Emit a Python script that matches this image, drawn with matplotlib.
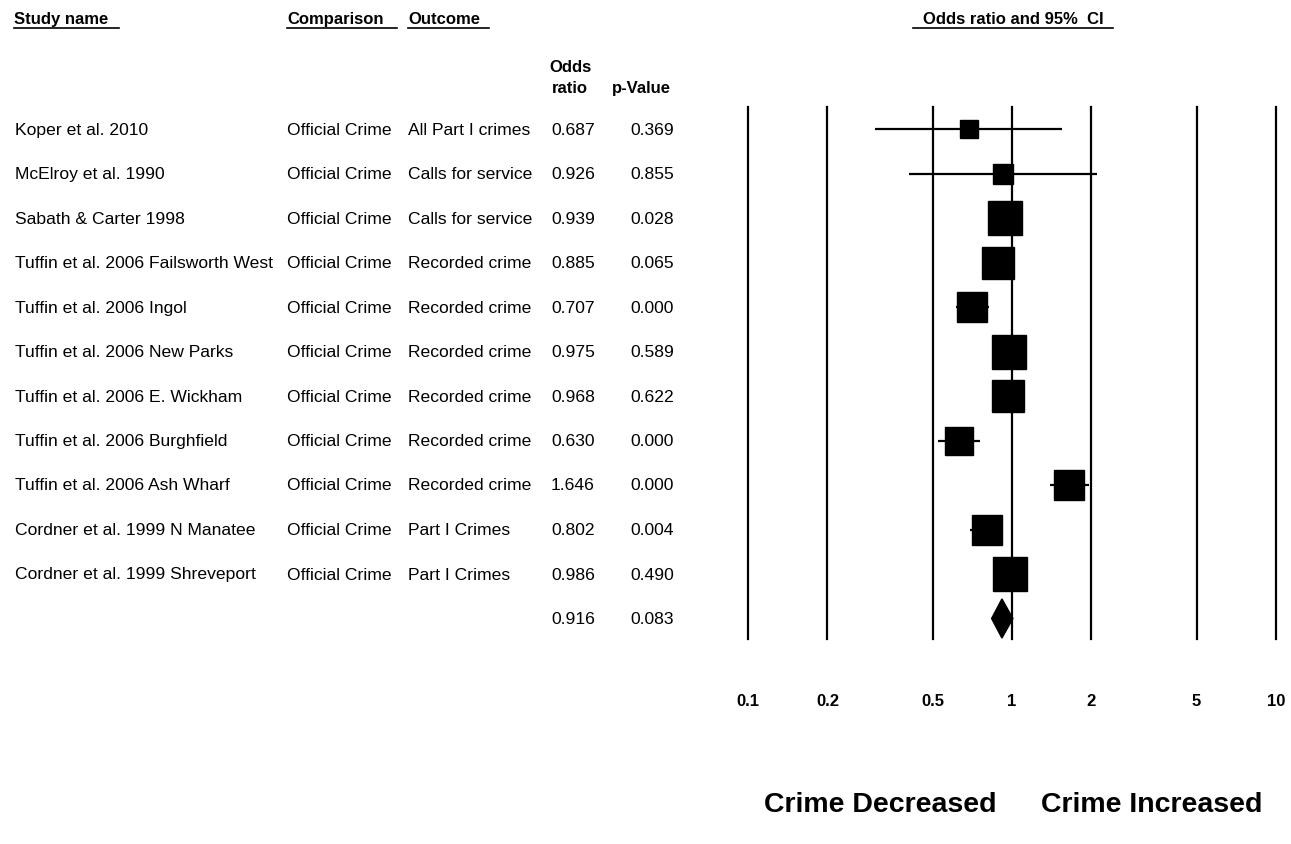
import matplotlib

matplotlib.use("Agg")
import matplotlib.pyplot as plt
import numpy as np
from matplotlib.patches import Polygon
from matplotlib.transforms import blended_transform_factory

plt.rcParams["font.family"] = ["Liberation Sans", "DejaVu Sans"]

# study rows
studies = [
    "Koper et al. 2010",
    "McElroy et al. 1990",
    "Sabath & Carter 1998",
    "Tuffin et al. 2006 Failsworth West",
    "Tuffin et al. 2006 Ingol",
    "Tuffin et al. 2006 New Parks",
    "Tuffin et al. 2006 E. Wickham",
    "Tuffin et al. 2006 Burghfield",
    "Tuffin et al. 2006 Ash Wharf",
    "Cordner et al. 1999 N Manatee",
    "Cordner et al. 1999 Shreveport",
]
comparison = ["Official Crime"] * len(studies)
outcome = [
    "All Part I crimes",
    "Calls for service",
    "Calls for service",
    "Recorded crime",
    "Recorded crime",
    "Recorded crime",
    "Recorded crime",
    "Recorded crime",
    "Recorded crime",
    "Part I Crimes",
    "Part I Crimes",
]
odds_ratio = [0.687, 0.926, 0.939, 0.885, 0.707, 0.975, 0.968, 0.630, 1.646, 0.802, 0.986]
p_value = [0.369, 0.855, 0.028, 0.065, 0.000, 0.589, 0.622, 0.000, 0.000, 0.004, 0.490]
ci_low = [0.304, 0.406, 0.887, 0.777, 0.611, 0.889, 0.851, 0.525, 1.387, 0.695, 0.947]
ci_high = [1.55, 2.10, 0.993, 1.008, 0.818, 1.069, 1.101, 0.756, 1.953, 0.925, 1.026]
weight = [3.6, 4.0, 12.2, 10.2, 9.5, 11.5, 10.2, 8.3, 8.9, 9.5, 12.2]

# pooled summary
summary_or = 0.916
summary_p = 0.083
summary_low = 0.837
summary_high = 1.008

xticks = [0.1, 0.2, 0.5, 1, 2, 5, 10]
xtick_labels = ["0.1", "0.2", "0.5", "1", "2", "5", "10"]

W, H = 1291, 845
fig = plt.figure(figsize=(W / 100, H / 100), dpi=100)


def fx(px):
    return px / W


def fy(py):
    return 1 - py / H


row0, step = 130, 44.5
ax_top, ax_bot = 108, 640
ax = fig.add_axes([fx(748), fy(ax_bot), fx(1276) - fx(748), (ax_bot - ax_top) / H])
ax.set_xscale("log")
ax.set_xlim(0.1, 10)
ax.set_ylim(11 + (ax_bot - row0 - 11 * step) / step, -(row0 - ax_top) / step)
for s in ax.spines.values():
    s.set_visible(False)
ax.set_yticks([])
ax.set_xticks(xticks)
ax.set_xticklabels(xtick_labels, fontsize=12, fontweight="bold")
ax.tick_params(axis="x", length=0, pad=39)
ax.minorticks_off()

for v in xticks:
    ax.axvline(v, color="black", lw=1.6, zorder=1, clip_on=False)

rows = np.arange(len(studies))
ax.hlines(rows, ci_low, ci_high, color="black", lw=1.6, zorder=2)
for r, o, w in zip(rows, odds_ratio, weight):
    ax.plot(o, r, marker="s", color="black", markersize=7.2 * np.sqrt(w), zorder=3)

sr = len(studies)
dh = 0.44
ax.add_patch(Polygon(
    [(summary_low, sr), (summary_or, sr - dh), (summary_high, sr), (summary_or, sr + dh)],
    closed=True, facecolor="black", edgecolor="black", zorder=3,
))

# table columns to the left, y in data units of the forest axes
tr = blended_transform_factory(fig.transFigure, ax.transData)
fs = 12.6
for r in rows:
    ax.text(fx(15), r, studies[r], transform=tr, fontsize=fs, va="center", ha="left")
    ax.text(fx(287), r, comparison[r], transform=tr, fontsize=fs, va="center", ha="left")
    ax.text(fx(408), r, outcome[r], transform=tr, fontsize=fs, va="center", ha="left")
for r, o, p in zip(list(rows) + [sr], odds_ratio + [summary_or], p_value + [summary_p]):
    ax.text(fx(573), r, f"{o:.3f}", transform=tr, fontsize=fs, va="center", ha="center")
    ax.text(fx(652), r, f"{p:.3f}", transform=tr, fontsize=fs, va="center", ha="center")

# headers
hfs = 12
for x0, x1, label in [(14, 119, "Study name"), (287, 397, "Comparison"), (408, 489, "Outcome")]:
    fig.text(fx(x0), fy(24), label, fontsize=hfs, fontweight="bold", ha="left", va="baseline")
    fig.add_artist(plt.Line2D([fx(x0), fx(x1)], [fy(29), fy(29)], color="black", lw=1.2))
fig.text(fx(1013), fy(24), "Odds ratio and 95%  CI", fontsize=hfs, fontweight="bold",
         ha="center", va="baseline")
fig.add_artist(plt.Line2D([fx(913), fx(1113)], [fy(29), fy(29)], color="black", lw=1.2))
fig.text(fx(570), fy(72), "Odds", fontsize=hfs, fontweight="bold", ha="center", va="baseline")
fig.text(fx(570), fy(93), "ratio", fontsize=hfs, fontweight="bold", ha="center", va="baseline")
fig.text(fx(641), fy(93), "p-Value", fontsize=hfs, fontweight="bold", ha="center", va="baseline")

fig.text(fx(880), fy(805), "Crime Decreased", fontsize=20.5, fontweight="bold", ha="center", va="center")
fig.text(fx(1152), fy(805), "Crime Increased", fontsize=20.5, fontweight="bold", ha="center", va="center")

fig.savefig("out.png", dpi=100, facecolor="white")
